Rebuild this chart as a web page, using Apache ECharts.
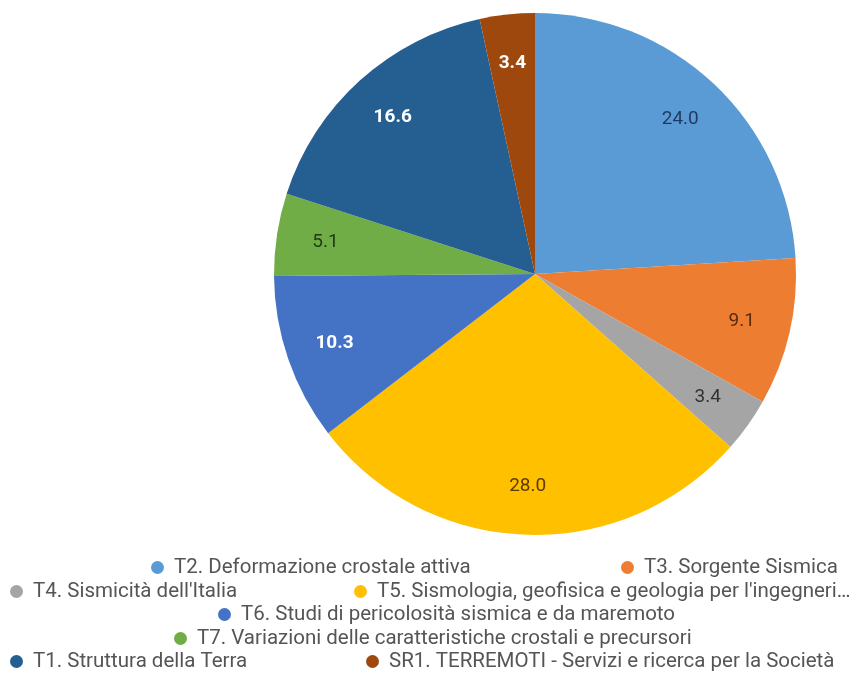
<!DOCTYPE html>
<html>
<head>
<meta charset="utf-8">
<script src="https://cdn.jsdelivr.net/npm/echarts@6/dist/echarts.min.js"></script>
<style>
html,body{margin:0;padding:0;background:#fff;}
#chart{width:853px;height:674px;}
</style>
</head>
<body>
<div id="chart"></div>
<script>
var categories = [
  "T2. Deformazione crostale attiva",
  "T3. Sorgente Sismica",
  "T4. Sismicità dell'Italia",
  "T5. Sismologia, geofisica e geologia per l'ingegneria sismica",
  "T6. Studi di pericolosità sismica e da maremoto",
  "T7. Variazioni delle caratteristiche crostali e precursori",
  "T1. Struttura della Terra",
  "SR1. TERREMOTI - Servizi e ricerca per la Società"
];
var values = [24.0, 9.1, 3.4, 28.0, 10.3, 5.1, 16.6, 3.4];

var colors = ["#5B9BD5", "#ED7D31", "#A5A5A5", "#FFC000", "#4472C4", "#70AD47", "#255E91", "#9E480E"];
var labelColors = ["#1F3A5F", "#5A2A0C", "#333333", "#5C3A00", "#FFFFFF", "#1E3A12", "#FFFFFF", "#FFFFFF"];
var labelBold = [false, false, false, false, true, false, true, true];

var legendPos = [
  [151, 557], [621, 557],
  [10, 581], [354, 581],
  [218, 604],
  [174, 628],
  [10, 651], [366, 651]
];
var legendRightLimit = 860;

var chart = echarts.init(document.getElementById('chart'));

var pieData = categories.map(function (n, i) {
  return { name: n, value: values[i], itemStyle: { color: colors[i] } };
});
var labelData = categories.map(function (n, i) {
  return {
    name: n, value: values[i],
    itemStyle: { color: 'rgba(0,0,0,0)' },
    label: { color: labelColors[i], fontWeight: labelBold[i] ? 'bold' : 'normal' }
  };
});

var legends = categories.map(function (n, i) {
  return {
    data: [n],
    left: legendPos[i][0],
    top: legendPos[i][1],
    padding: 0,
    icon: 'circle',
    itemWidth: 13,
    itemHeight: 13,
    selectedMode: false,
    textStyle: {
      fontFamily: 'Roboto',
      fontSize: 20.5,
      color: '#555555',
      padding: [0, 0, 0, 5],
      width: legendRightLimit - (legendPos[i][0] + 23),
      overflow: 'truncate',
      ellipsis: '…'
    }
  };
});

chart.setOption({
  backgroundColor: '#ffffff',
  animation: false,
  legend: legends,
  series: [
    {
      type: 'pie',
      center: [535, 274],
      radius: [0, 261],
      startAngle: 90,
      clockwise: true,
      label: { show: false },
      labelLine: { show: false },
      itemStyle: { borderWidth: 0 },
      emphasis: { disabled: true },
      data: pieData
    },
    {
      type: 'pie',
      center: [535, 274],
      radius: [157, 261],
      startAngle: 90,
      clockwise: true,
      silent: true,
      legendHoverLink: false,
      label: {
        show: true,
        position: 'inside',
        fontFamily: 'Roboto',
        fontSize: 19,
        formatter: function (p) { return p.value.toFixed(1); }
      },
      labelLine: { show: false },
      itemStyle: { borderWidth: 0 },
      emphasis: { disabled: true },
      data: labelData
    }
  ]
});
</script>
</body>
</html>
